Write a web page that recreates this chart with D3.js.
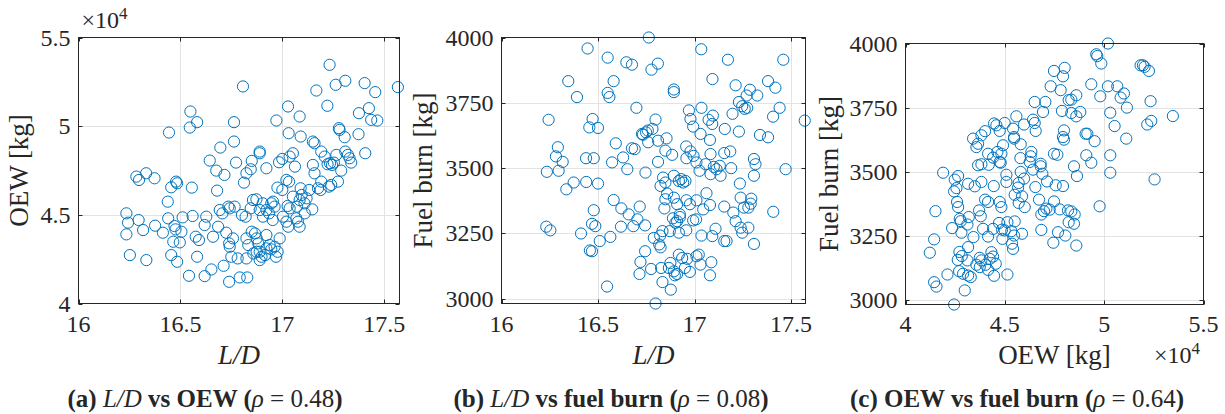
<!DOCTYPE html>
<html>
<head>
<meta charset="utf-8">
<script src="https://cdn.jsdelivr.net/npm/d3@7"></script>
<style>
  html, body { margin: 0; padding: 0; background: #fff; }
  svg text { font-family: "Liberation Serif", "Times New Roman", serif; fill: #262626; }
</style>
</head>
<body>
<svg id="chart" width="1225" height="414"></svg>
<script>
// ---------------- DATA ----------------
// Panel (a): L/D vs OEW [kg]
const ldA = [17.232,17.567,16.807,17.309,17.262,17.404,17.456,17.167,17.221,17.425,17.376,17.436,17.466,17.028,17.085,16.971,16.549,16.582,16.546,16.444,16.763,16.763,17.031,17.090,17.281,17.278,17.306,17.374,17.150,17.158,16.696,16.889,16.889,17.407,17.191,17.208,17.052,17.265,17.309,17.322,17.330,17.338,16.644,16.773,16.850,16.845,16.824,16.812,16.922,16.984,17.000,17.036,17.062,17.150,17.158,17.222,17.234,17.244,17.253,17.289,17.273,17.240,17.229,17.191,17.175,17.188,16.676,16.716,16.680,16.556,16.284,16.297,16.332,16.373,16.479,16.484,16.455,16.438,16.976,17.000,17.033,17.020,17.090,17.095,17.132,17.119,17.085,17.052,17.072,17.109,17.147,16.873,16.856,16.904,16.946,16.954,16.962,17.026,17.036,16.922,16.735,16.693,16.766,16.802,16.820,16.845,16.889,16.905,16.935,16.953,17.003,17.020,17.029,17.069,17.077,17.085,17.110,16.235,16.243,16.295,16.235,16.317,16.376,16.414,16.440,16.471,16.476,16.505,16.511,16.465,16.497,16.560,16.619,16.627,16.660,16.685,16.575,16.591,16.706,16.742,16.725,16.758,16.739,16.742,16.824,16.833,16.850,16.866,16.874,16.882,16.858,16.874,16.898,16.915,16.922,16.938,16.946,16.962,16.977,16.969,16.987,16.922,16.889,16.750,16.781,16.824,16.889,16.252,16.333,16.455,16.484,16.582,16.652,16.712,16.542,16.619,16.739,16.791,16.828];
const oewA = [53460,52202,52240,52560,52333,52428,51920,52010,51150,51015,50733,50356,50319,51110,50545,50319,50827,50225,49923,49641,50225,49133,49603,49415,49791,49886,49377,49547,49133,49039,48794,48568,48474,48474,48568,48285,48474,48380,48568,48380,48191,47946,48060,47946,48040,47570,47344,46816,47626,47965,48153,48285,47720,47815,47344,47852,47909,47815,47946,47494,46873,46685,46591,46873,46496,46402,47494,47250,46365,46534,47156,46967,47344,47061,46873,46779,46553,45743,46534,46402,46873,46967,46496,46120,46402,45932,45837,46026,45461,45649,45310,45875,45837,45649,45649,45743,45461,45498,45366,45272,45461,45272,45461,44990,44896,45366,45272,44896,45084,44708,44896,44613,44331,44802,44613,44331,45084,45084,44557,44708,43898,44143,44388,43992,44802,44369,44180,44048,44858,43484,43446,44934,44425,44896,43766,44331,43766,43578,45084,45366,43992,43672,43390,43201,43672,43295,44048,43954,43672,43390,42825,42919,42636,42731,43107,43295,43051,43201,42919,42636,43672,43860,42919,42636,42542,42542,42448,42730,42448,42730,42354,42636,41920,42128,41563,41544,41224,41469,41469];

// Panel (b): L/D vs fuel burn [kg]
const ldB = [16.763,16.446,16.550,16.647,16.676,16.777,16.810,17.035,17.173,17.460,16.346,16.581,17.093,17.213,17.381,17.419,16.391,16.550,16.559,16.893,16.893,17.287,17.270,17.325,17.230,17.247,17.260,17.273,17.197,16.699,16.971,17.036,17.441,17.407,17.095,17.073,17.092,16.979,16.993,16.244,17.571,16.472,16.455,16.500,16.798,16.782,16.749,16.728,16.733,16.758,16.760,16.811,16.855,17.031,17.080,17.157,17.230,17.339,17.381,16.292,16.282,16.317,16.235,16.296,16.374,16.336,16.438,16.478,16.439,16.500,16.592,16.630,16.573,16.652,16.676,16.690,16.746,16.811,16.849,16.884,16.957,16.979,16.958,16.995,17.010,17.026,17.057,17.083,17.100,17.114,17.131,17.083,17.135,17.154,17.185,17.190,17.308,17.316,17.308,17.472,17.235,16.837,16.849,16.824,16.893,16.919,16.941,16.953,16.931,17.062,16.858,16.849,16.893,16.958,16.976,17.010,16.844,16.910,17.080,17.045,17.154,17.201,17.239,17.256,17.279,17.291,17.294,17.408,17.213,17.239,17.247,17.279,17.308,17.109,17.092,17.154,17.166,17.036,17.008,16.993,16.957,16.924,16.910,16.901,16.888,16.872,16.919,16.924,16.581,16.621,16.659,16.716,16.704,16.683,16.744,16.619,16.564,16.509,16.412,16.478,16.469,16.486,16.232,16.253,16.458,16.469,16.789,16.822,16.817,16.824,16.834,16.744,16.720,16.715,16.775,16.827,16.875,16.867,16.893,16.910,16.898,16.919,16.936,16.962,16.950,16.976,17.010,17.022,17.031,17.087,17.080,16.834,16.877,16.547,16.798];
const fuelB = [4000,3958,3923,3905,3896,3877,3900,3955,3915,3915,3833,3833,3841,3817,3833,3808,3772,3788,3772,3801,3791,3800,3778,3778,3753,3737,3727,3731,3708,3731,3721,3731,3731,3697,3701,3685,3669,3688,3659,3685,3682,3688,3656,3654,3686,3650,3637,3631,3628,3644,3599,3605,3614,3631,3608,3650,3640,3627,3618,3580,3545,3524,3486,3490,3445,3419,3538,3538,3447,3441,3595,3541,3522,3496,3576,3573,3483,3524,3567,3551,3583,3564,3538,3547,3522,3490,3515,3554,3505,3496,3509,3477,3471,3558,3564,3500,3535,3515,3471,3496,3441,3464,3445,3432,3471,3451,3445,3451,3458,3404,3403,3381,3387,3377,3362,3377,3346,3362,3359,3342,3353,3330,3387,3349,3349,3364,3383,3333,3297,3272,3253,3272,3210,3268,3240,3221,3221,3242,3304,3300,3262,3313,3297,3291,3308,3259,3253,3323,3378,3346,3323,3353,3304,3278,3281,3276,3237,3221,3250,3339,3287,3278,3276,3262,3185,3182,3233,3242,3208,3197,3259,3182,3141,3095,3114,3118,3137,3118,3105,3095,3090,3169,3156,3153,3118,3103,3163,3169,3131,3140,3090,3064,3035,3047,2982];

// Panel (c): OEW [kg] vs fuel burn [kg]
const oewC = [50190,49603,49653,49855,51833,51951,52034,52252,47475,48011,47928,47307,47810,49352,50190,50659,50995,50827,51145,49805,48598,48346,48212,46503,47039,47877,48346,48598,48799,46922,52336,53458,50307,50525,52370,52169,51112,49067,49151,49520,47978,47928,47978,46419,46503,46553,45581,45966,45413,45464,45464,45799,44458,44576,44994,44743,44006,43821,43402,43653,43570,44910,44157,44626,44827,44408,44743,44793,43653,43821,44190,45783,46336,46302,46252,46419,46804,46804,46888,47123,47475,47643,48481,48631,49101,49352,50307,50307,52537,49771,41894,42648,42480,42447,42564,43151,43486,43821,44442,45078,45078,45799,45966,45698,45665,45497,45866,46000,45698,46536,46721,47475,47559,47928,42597,42648,41508,44006,44157,44743,44827,43703,43787,43184,42732,42782,47090,46972,46838,47257,47760,48179,48346,48514,48212,48481,44710,45129,45497,44860,44994,45329,45464,45866,44408,44157,44877,45363,45413,43117,42815,42346,43419,43151,43905,46838,47676,48045,47441,48598,41441,41223,42715,42832,42631,43117,43737,43821,43570,43737,44023,44324,44408,44542,44240,44157,44458,45129,42112,42698,42899,43151,43285,41441,41559,42983,42447];
const fuelC = [4000,3958,3951,3922,3915,3915,3909,3893,3893,3905,3872,3833,3818,3841,3833,3833,3805,3789,3750,3794,3798,3781,3779,3772,3772,3737,3729,3716,3733,3733,3775,3717,3730,3678,3698,3684,3629,3648,3648,3619,3661,3635,3625,3703,3690,3659,3716,3684,3668,3635,3629,3607,3688,3681,3690,3659,3658,3642,3629,3609,3596,3603,3570,3577,3570,3555,3538,3535,3525,3529,3527,3553,3577,3560,3538,3508,3531,3521,3492,3462,3570,3566,3521,3483,3564,3535,3564,3496,3470,3365,3496,3483,3469,3423,3436,3453,3443,3460,3444,3488,3460,3499,3473,3456,3438,3410,3404,3362,3378,3440,3391,3384,3447,3444,3382,3362,3346,3391,3382,3382,3362,3349,3326,3323,3316,3307,3356,3346,3333,3352,3353,3349,3345,3333,3303,3297,3300,3303,3306,3274,3271,3268,3251,3258,3277,3247,3238,3219,3199,3294,3262,3280,3245,3206,3277,3273,3264,3251,3223,3212,3236,3184,3187,3171,3156,3154,3164,3154,3137,3128,3137,3186,3169,3141,3160,3117,3094,3099,3099,3112,3102,3095,3089,3069,3052,3037,2982];

// Tick values
const ldTicks = [16, 16.5, 17, 17.5];
const oewTicks = [40000, 45000, 50000, 55000];
const fuelTicks = [3000, 3250, 3500, 3750, 4000];

// Labels
const captions = [
  {id: "(a)", parts: [["(a) ", "b"], ["L/D", "i"], [" vs OEW (", "b"], ["ρ", "i"], [" = 0.48", "n"], [")", "b"]]},
  {id: "(b)", parts: [["(b) ", "b"], ["L/D", "i"], [" vs fuel burn (", "b"], ["ρ", "i"], [" = 0.08", "n"], [")", "b"]]},
  {id: "(c)", parts: [["(c) OEW vs fuel burn (", "b"], ["ρ", "i"], [" = 0.64", "n"], [")", "b"]]}
];

// ---------------- LAYOUT ----------------
const svg = d3.select("#chart");
const color = "#0072BD";
const axisColor = "#262626";
const gridColor = "#e3e3e3";

const panels = [
  {x: ldA, y: oewA, xDom: [16, 17.575], yDom: [40000, 55000], xTicks: ldTicks, yTicks: oewTicks,
   xFmt: d => d3.format("")(d), yFmt: d => d3.format("")(d / 1e4),
   box: {l: 78.5, t: 37.5, r: 399.5, b: 303.5}, xLabel: "L/D", xItalic: true, yLabel: "OEW [kg]",
   yLabelX: 28, expTop: true, capX: 205},
  {x: ldB, y: fuelB, xDom: [16, 17.575], yDom: [2982, 4000], xTicks: ldTicks, yTicks: fuelTicks,
   xFmt: d => d3.format("")(d), yFmt: d => d3.format("")(d),
   box: {l: 501.5, t: 37.5, r: 805.5, b: 303.5}, xLabel: "L/D", xItalic: true, yLabel: "Fuel burn [kg]",
   yLabelX: 432, capX: 611},
  {x: oewC, y: fuelC, xDom: [40000, 55000], yDom: [2982, 4000], xTicks: oewTicks, yTicks: fuelTicks,
   xFmt: d => d3.format("")(d / 1e4), yFmt: d => d3.format("")(d),
   box: {l: 905.5, t: 43.5, r: 1203.5, b: 304.5}, xLabel: "OEW  [kg]", xItalic: false, yLabel: "Fuel burn [kg]",
   yLabelX: 838, expRight: true, capX: 1017}
];

const tickLen = 4;
const tickFont = 24;
const labelFont = 27;

panels.forEach((p, i) => {
  const {l, t, r, b} = p.box;
  const x = d3.scaleLinear().domain(p.xDom).range([l, r]);
  const y = d3.scaleLinear().domain(p.yDom).range([b, t]);
  const g = svg.append("g");

  // grid
  g.selectAll(".gx").data(p.xTicks.filter(v => x(v) > l + 1 && x(v) < r - 1)).enter()
    .append("line").attr("x1", d => Math.round(x(d)) + 0.5).attr("x2", d => Math.round(x(d)) + 0.5)
    .attr("y1", t).attr("y2", b).attr("stroke", gridColor).attr("stroke-width", 1);
  g.selectAll(".gy").data(p.yTicks.filter(v => y(v) > t + 1 && y(v) < b - 1)).enter()
    .append("line").attr("y1", d => Math.round(y(d)) + 0.5).attr("y2", d => Math.round(y(d)) + 0.5)
    .attr("x1", l).attr("x2", r).attr("stroke", gridColor).attr("stroke-width", 1);

  // points
  g.selectAll("circle").data(p.x.map((v, k) => [v, p.y[k]])).enter()
    .append("circle").attr("cx", d => x(d[0])).attr("cy", d => y(d[1])).attr("r", 5.6)
    .attr("fill", "none").attr("stroke", color).attr("stroke-width", 1);

  // box
  g.append("rect").attr("x", l).attr("y", t).attr("width", r - l).attr("height", b - t)
    .attr("fill", "none").attr("stroke", axisColor).attr("stroke-width", 1);

  // ticks (inward, all four sides)
  p.xTicks.forEach(v => {
    const xv = Math.round(x(v)) + 0.5;
    if (xv < l - 1 || xv > r + 1) return;
    g.append("line").attr("x1", xv).attr("x2", xv).attr("y1", b).attr("y2", b - tickLen).attr("stroke", axisColor);
    g.append("line").attr("x1", xv).attr("x2", xv).attr("y1", t).attr("y2", t + tickLen).attr("stroke", axisColor);
    g.append("text").attr("x", x(v)).attr("y", 332).attr("text-anchor", "middle")
      .attr("font-size", tickFont).text(p.xFmt(v));
  });
  p.yTicks.forEach(v => {
    const yv = Math.round(y(v)) + 0.5;
    if (yv < t - 1 || yv > b + 6) return;
    g.append("line").attr("y1", yv).attr("y2", yv).attr("x1", l).attr("x2", l + tickLen).attr("stroke", axisColor);
    g.append("line").attr("y1", yv).attr("y2", yv).attr("x1", r).attr("x2", r - tickLen).attr("stroke", axisColor);
    g.append("text").attr("x", l - 8).attr("y", y(v) + 8).attr("text-anchor", "end")
      .attr("font-size", tickFont).text(p.yFmt(v));
  });

  // x label
  g.append("text").attr("x", (l + r) / 2).attr("y", 364).attr("text-anchor", "middle")
    .attr("font-size", labelFont).attr("font-style", p.xItalic ? "italic" : "normal").text(p.xLabel);

  // y label
  g.append("text").attr("transform", `translate(${p.yLabelX},${(t + b) / 2}) rotate(-90)`)
    .attr("text-anchor", "middle").attr("font-size", labelFont).text(p.yLabel);

  // exponent
  if (p.expTop) {
    const e = g.append("text").attr("x", l + 3).attr("y", 28).attr("font-size", tickFont);
    e.append("tspan").text("×10");
    e.append("tspan").attr("dy", -9).attr("font-size", 17).text("4");
  }
  if (p.expRight) {
    const e = g.append("text").attr("x", 1154).attr("y", 363).attr("font-size", tickFont);
    e.append("tspan").text("×10");
    e.append("tspan").attr("dy", -9).attr("font-size", 17).text("4");
  }

  // caption
  const cap = g.append("text").attr("x", p.capX).attr("y", 407).attr("text-anchor", "middle").attr("font-size", 25);
  captions[i].parts.forEach(([txt, st]) => {
    cap.append("tspan").text(txt)
      .attr("font-weight", st === "b" ? "bold" : "normal")
      .attr("font-style", st === "i" ? "italic" : "normal");
  });
});
</script>
</body>
</html>
